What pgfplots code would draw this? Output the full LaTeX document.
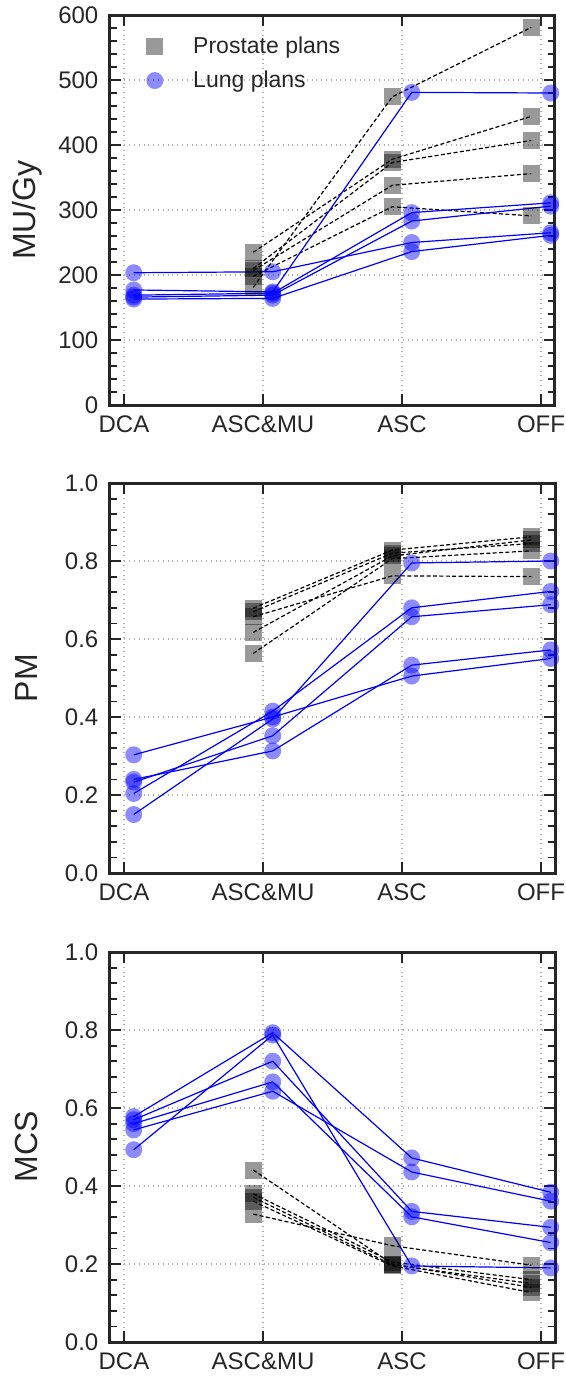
\documentclass[border=0pt]{standalone}
\usepackage{fontspec}
\setmainfont{Liberation Sans}
\usepackage{pgfplots}
\pgfplotsset{compat=1.18}

\definecolor{axcol}{HTML}{262626}
\definecolor{gridcol}{HTML}{B0B0B0}

\pgfplotsset{
  panel/.style={
    scale only axis, width=222.5pt, height=195pt,
    xmin=-0.1007, xmax=3.1007,
    xtick={0,1,2,3}, xticklabels={DCA,ASC\&MU,ASC,OFF},
    minor x tick num=0, minor y tick num=4,
    xmajorgrids, ymajorgrids,
    grid style={gridcol, dotted, line width=0.6pt},
    axis line style={axcol, line width=1.5pt},
    major tick length=5.5pt, minor tick length=3.5pt,
    major tick style={axcol, line width=1.3pt},
    minor tick style={axcol, line width=0.9pt},
    tick label style={font=\fontsize{12}{14}\selectfont, text=axcol},
    yticklabel style={xshift=-2.3pt},
    xticklabel style={yshift=-1.6pt},
    label style={font=\fontsize{16}{18}\selectfont, text=axcol},
    ylabel style={at={(axis description cs:-0.187,0.5)}, anchor=center},
    /pgf/number format/assume math mode=true,
    clip=false,
  },
  lung/.style={blue, line width=0.6pt, mark=*, mark size=4.25pt,
    mark options={draw opacity=0, fill=blue, fill opacity=0.45}},
  pros/.style={black, line width=0.6pt, dash pattern=on 2pt off 1.2pt,
    mark=square*, mark size=4.25pt,
    mark options={solid, draw opacity=0, fill=black, fill opacity=0.4}},
}

\begin{document}
\begin{tikzpicture}

% MU/Gy
\begin{axis}[panel, at={(0,0)}, anchor=north west,
  ymin=0, ymax=600, ytick={0,100,...,600}, ylabel={MU/Gy},
  legend style={at={(axis description cs:0.063,0.965)}, anchor=north west,
    draw=none, fill=none, font=\fontsize{11.5}{13}\selectfont, text=axcol,
    row sep=3pt},
  legend cell align=left,
  legend image code/.code={\draw[#1] plot coordinates {(5pt,0pt)}; \path (0pt,0pt) (22pt,0pt);},
]
\addlegendimage{only marks, mark=square*, mark size=4.25pt, mark options={draw opacity=0, fill=black, fill opacity=0.4}}
\addlegendentry{Prostate plans}
\addlegendimage{only marks, mark=*, mark size=4.25pt, mark options={draw opacity=0, fill=blue, fill opacity=0.45}}
\addlegendentry{Lung plans}
\addplot[pros, forget plot] coordinates {(0.93,181) (1.93,474) (2.93,581)};
\addplot[pros, forget plot] coordinates {(0.93,235) (1.93,378) (2.93,444)};
\addplot[pros, forget plot] coordinates {(0.93,210) (1.93,373) (2.93,407)};
\addplot[pros, forget plot] coordinates {(0.93,207) (1.93,338) (2.93,356)};
\addplot[pros, forget plot] coordinates {(0.93,198) (1.93,305) (2.93,291)};
\addplot[lung, forget plot] coordinates {(0.07,177) (1.07,174) (2.07,481) (3.07,480)};
\addplot[lung, forget plot] coordinates {(0.07,203.5) (1.07,205) (2.07,250) (3.07,265)};
\addplot[lung, forget plot] coordinates {(0.07,169) (1.07,172) (2.07,296) (3.07,311)};
\addplot[lung, forget plot] coordinates {(0.07,166) (1.07,169) (2.07,283) (3.07,306)};
\addplot[lung, forget plot] coordinates {(0.07,163) (1.07,164) (2.07,236) (3.07,261)};
\end{axis}

% PM
\begin{axis}[panel, at={(0,-234pt)}, anchor=north west,
  ymin=0, ymax=1, ytick={0,0.2,...,1.0}, ylabel={PM},
  yticklabel style={/pgf/number format/.cd, fixed, fixed zerofill, precision=1},
]
\addplot[pros] coordinates {(0.93,0.679) (1.93,0.828) (2.93,0.862)};
\addplot[pros] coordinates {(0.93,0.670) (1.93,0.820) (2.93,0.845)};
\addplot[pros] coordinates {(0.93,0.657) (1.93,0.762) (2.93,0.760)};
\addplot[pros] coordinates {(0.93,0.617) (1.93,0.813) (2.93,0.854)};
\addplot[pros] coordinates {(0.93,0.563) (1.93,0.806) (2.93,0.826)};
\addplot[lung] coordinates {(0.07,0.150) (1.07,0.395) (2.07,0.795) (3.07,0.800)};
\addplot[lung] coordinates {(0.07,0.303) (1.07,0.400) (2.07,0.505) (3.07,0.550)};
\addplot[lung] coordinates {(0.07,0.204) (1.07,0.415) (2.07,0.680) (3.07,0.722)};
\addplot[lung] coordinates {(0.07,0.233) (1.07,0.352) (2.07,0.657) (3.07,0.688)};
\addplot[lung] coordinates {(0.07,0.240) (1.07,0.313) (2.07,0.533) (3.07,0.572)};
\end{axis}

% MCS
\begin{axis}[panel, at={(0,-468.5pt)}, anchor=north west,
  ymin=0, ymax=1, ytick={0,0.2,...,1.0}, ylabel={MCS},
  yticklabel style={/pgf/number format/.cd, fixed, fixed zerofill, precision=1},
]
\addplot[pros] coordinates {(0.93,0.441) (1.93,0.200) (2.93,0.140)};
\addplot[pros] coordinates {(0.93,0.380) (1.93,0.205) (2.93,0.160)};
\addplot[pros] coordinates {(0.93,0.371) (1.93,0.198) (2.93,0.150)};
\addplot[pros] coordinates {(0.93,0.361) (1.93,0.195) (2.93,0.127)};
\addplot[pros] coordinates {(0.93,0.328) (1.93,0.247) (2.93,0.197)};
\addplot[lung] coordinates {(0.07,0.493) (1.07,0.787) (2.07,0.195) (3.07,0.190)};
\addplot[lung] coordinates {(0.07,0.578) (1.07,0.793) (2.07,0.472) (3.07,0.384)};
\addplot[lung] coordinates {(0.07,0.570) (1.07,0.720) (2.07,0.335) (3.07,0.294)};
\addplot[lung] coordinates {(0.07,0.560) (1.07,0.667) (2.07,0.321) (3.07,0.255)};
\addplot[lung] coordinates {(0.07,0.544) (1.07,0.643) (2.07,0.436) (3.07,0.361)};
\end{axis}

\pgfresetboundingbox
\path[use as bounding box] (-55pt,7.5pt) rectangle (228pt,-681.5pt);
\end{tikzpicture}
\end{document}
